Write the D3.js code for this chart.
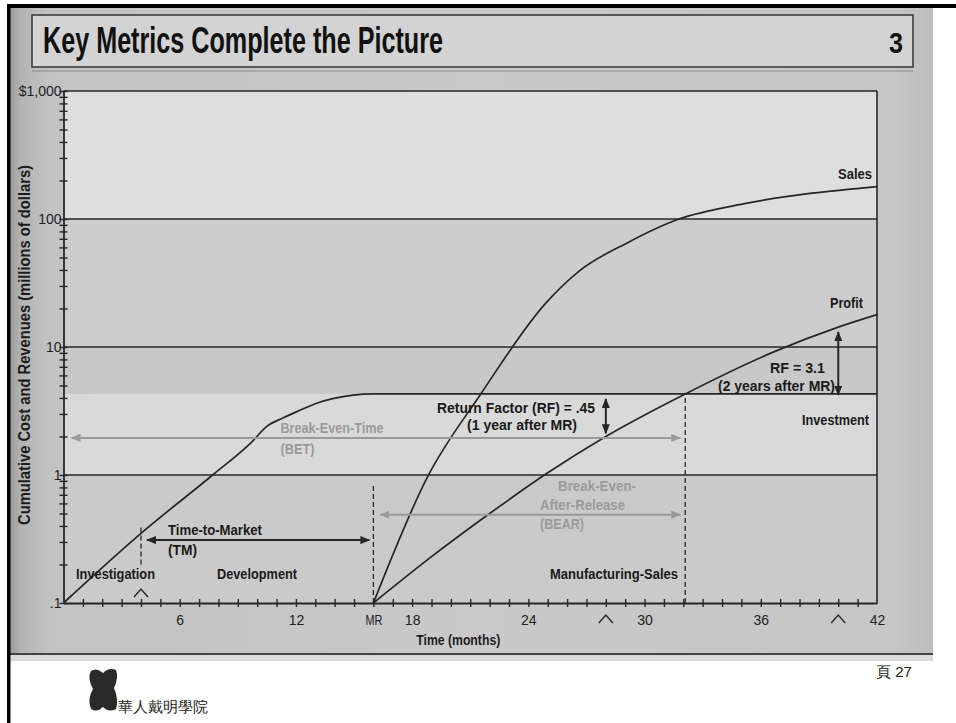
<!DOCTYPE html>
<html>
<head>
<meta charset="utf-8">
<title>Key Metrics Complete the Picture</title>
<script src="https://cdn.jsdelivr.net/npm/d3@7/dist/d3.min.js"></script>
<style>
  html, body { margin: 0; padding: 0; background: #fff; }
  svg { display: block; }
  text { font-family: "Liberation Sans", Arial, Helvetica, sans-serif; }
</style>
</head>
<body>
<svg id="chart" width="956" height="723"></svg>
<script>
// ---------- data ----------
const decadeTicks  = [0.1, 1, 10, 100, 1000];
const decadeLabels = [".1", "1", "10", "100", "$1,000"];
const monthTicks   = [6, 12, 16, 18, 24, 30, 36, 42];
const monthLabels  = ["6", "12", "MR", "18", "24", "30", "36", "42"];

// cumulative investment (cost), $M
const investMonths = [0, 4, 7.7, 9.7, 10.5, 11.35, 12.2, 13.1, 13.9, 16, 42];
const investValues = [0.1, 0.35, 1.0, 1.8, 2.4, 2.8, 3.2, 3.65, 3.95, 4.3, 4.3];

// cumulative sales, $M
const salesMonths = [16, 18.8, 21.5, 24.9, 26.7, 29.1, 31.7, 35.3, 42];
const salesValues = [0.1, 0.97, 4.2, 22, 40, 65, 99, 133, 179];

// cumulative profit, $M
const profitMonths = [16, 19, 22, 25, 28, 32.1, 36.7, 40, 42];
const profitValues = [0.1, 0.23, 0.5, 1.04, 2.0, 4.3, 9.2, 14.3, 17.9];

const investment     = 4.3;   // total investment, $M
const tmStart        = 4;     // end of investigation
const mrMonth        = 16;    // manufacturing release
const breakEvenMonth = 32.1;  // profit recovers the investment
const rfMonths       = [28, 40];     // one and two years after MR
const rfValues       = [0.45, 3.1];  // return factor = profit / investment
const caretMonths    = [4, 28, 40];

// levels ($M) at which the interval arrows run
const tmLevel = 0.31, betLevel = 1.95, bearLevel = 0.49;

// ---------- styles ----------
const INK = "#262626", GREY = "#9a9a9a";
const bandEdges = [1000, 100, 10, investment, 1, 0.1];
const bandFills = ["#dedede", "#cdcdcd", "#c8c8c8", "#d9d9d9", "#cacaca"];

const svg = d3.select("#chart");
const x = d3.scaleLinear().domain([0, 42]).range([63.5, 877]);
const y = d3.scaleLog().domain([0.1, 1000]).range([603, 91]);

// ---------- defs ----------
const defs = svg.append("defs");
const grad = defs.append("linearGradient").attr("id", "paper").attr("x1", 0).attr("x2", 1).attr("y1", 0).attr("y2", 0);
[[0, "#9a9a9a"], [0.012, "#b4b4b4"], [0.045, "#c3c3c3"], [0.5, "#c9c9c9"], [0.96, "#c6c6c6"], [1, "#bdbdbd"]]
  .forEach(([o, c]) => grad.append("stop").attr("offset", o).attr("stop-color", c));

function marker(id, color) {
  defs.append("marker").attr("id", id)
    .attr("viewBox", "0 0 10 8").attr("refX", 9).attr("refY", 4)
    .attr("markerWidth", 10).attr("markerHeight", 8)
    .attr("markerUnits", "userSpaceOnUse").attr("orient", "auto-start-reverse")
    .attr("preserveAspectRatio", "none")
    .append("path").attr("d", "M0,0 L10,4 L0,8 Z").attr("fill", color);
}
marker("headInk", INK);
marker("headGrey", GREY);

// ---------- page ----------
svg.append("rect").attr("x", 0).attr("y", 0).attr("width", 956).attr("height", 723).attr("fill", "#fff");
svg.append("rect").attr("x", 10).attr("y", 8).attr("width", 923).attr("height", 647).attr("fill", "url(#paper)");
svg.append("rect").attr("x", 10).attr("y", 655).attr("width", 923).attr("height", 6).attr("fill", "#dcdcdc");
svg.append("line").attr("x1", 10).attr("x2", 933).attr("y1", 654).attr("y2", 654).attr("stroke", "#444").attr("stroke-width", 2);
svg.append("rect").attr("x", 7).attr("y", 4).attr("width", 949).attr("height", 4).attr("fill", "#000");
svg.append("rect").attr("x", 7).attr("y", 4).attr("width", 3.5).attr("height", 719).attr("fill", "#000");

// title box
svg.append("rect").attr("x", 32).attr("y", 15).attr("width", 881).attr("height", 52)
  .attr("fill", "#d3d3d3").attr("stroke", "#333").attr("stroke-width", 1.5);
svg.append("line").attr("x1", 32).attr("x2", 913).attr("y1", 71).attr("y2", 71).attr("stroke", "#8a8a8a").attr("stroke-width", 1);
svg.append("text").attr("x", 43).attr("y", 53).attr("font-size", 36).attr("font-weight", "bold")
  .attr("fill", "#111").attr("textLength", 400).attr("lengthAdjust", "spacingAndGlyphs")
  .text("Key Metrics Complete the Picture");
svg.append("text").attr("x", 889).attr("y", 53).attr("font-size", 30).attr("font-weight", "bold")
  .attr("fill", "#111").attr("textLength", 14).attr("lengthAdjust", "spacingAndGlyphs").text("3");

// ---------- plot bands ----------
svg.append("g").selectAll("rect").data(bandFills).join("rect")
  .attr("x", x(0)).attr("width", x(42) - x(0))
  .attr("y", (d, i) => y(bandEdges[i]))
  .attr("height", (d, i) => y(bandEdges[i + 1]) - y(bandEdges[i]))
  .attr("fill", d => d);

// decade grid lines + frame
svg.append("g").selectAll("line").data([1, 10, 100, 1000]).join("line")
  .attr("x1", x(0)).attr("x2", x(42)).attr("y1", d => y(d)).attr("y2", d => y(d))
  .attr("stroke", INK).attr("stroke-width", 1.6);
svg.append("line").attr("x1", x(42)).attr("x2", x(42)).attr("y1", y(1000)).attr("y2", y(0.1))
  .attr("stroke", INK).attr("stroke-width", 1.6);

// ---------- axes ----------
const axisY = svg.append("g").attr("transform", `translate(${x(0)},0)`)
  .call(d3.axisLeft(y).tickValues(y.ticks()).tickFormat("").tickSizeInner(4).tickSizeOuter(0));
axisY.selectAll(".tick line").attr("x1", 4).attr("stroke", INK).attr("stroke-width", 1.4);
axisY.select(".domain").attr("stroke", INK).attr("stroke-width", 1.8);

const labelsY = svg.append("g").attr("transform", `translate(${x(0)},0)`)
  .call(d3.axisLeft(y).tickValues(decadeTicks).tickFormat((d, i) => decadeLabels[i]).tickSize(0).tickPadding(2));
labelsY.select(".domain").remove();
labelsY.selectAll("text").attr("font-size", 14).attr("fill", "#222")
  .attr("font-family", "'Liberation Sans', Arial, sans-serif");

const axisX = svg.append("g").attr("transform", `translate(0,${y(0.1)})`)
  .call(d3.axisBottom(x).tickValues(d3.range(1, 42)).tickFormat("").tickSizeInner(4).tickSizeOuter(0));
axisX.selectAll(".tick line").attr("y1", -4).attr("stroke", INK).attr("stroke-width", 1.4);
axisX.select(".domain").attr("stroke", INK).attr("stroke-width", 1.8);

const labelsX = svg.append("g").attr("transform", `translate(0,${y(0.1)})`)
  .call(d3.axisBottom(x).tickValues(monthTicks).tickFormat((d, i) => monthLabels[i]).tickSize(0).tickPadding(12));
labelsX.select(".domain").remove();
labelsX.selectAll("text").attr("font-size", 14).attr("fill", "#222")
  .attr("font-family", "'Liberation Sans', Arial, sans-serif")
  .attr("textLength", (d, i) => monthLabels[i] === "MR" ? 17 : null)
  .attr("lengthAdjust", "spacingAndGlyphs");

// carets marking TM start, and one / two years after MR
const caret = (m, base) => `M${x(m) - 7},${base} L${x(m)},${base - 8} L${x(m) + 7},${base}`;
svg.append("g").selectAll("path").data(caretMonths).join("path")
  .attr("d", (m, i) => caret(m, i === 0 ? y(0.1) - 6 : y(0.1) + 20))
  .attr("fill", "none").attr("stroke", INK).attr("stroke-width", 1.4);

// axis titles
svg.append("text").attr("transform", "translate(30,345) rotate(-90)")
  .attr("text-anchor", "middle").attr("font-size", 16).attr("font-weight", "bold").attr("fill", "#1c1c1c")
  .attr("textLength", 360).attr("lengthAdjust", "spacingAndGlyphs")
  .text("Cumulative Cost and Revenues (millions of dollars)");
svg.append("text").attr("x", (x(0) + x(42)) / 2 - 12).attr("y", 645)
  .attr("text-anchor", "middle").attr("font-size", 15).attr("font-weight", "bold").attr("fill", "#1c1c1c")
  .attr("textLength", 84).attr("lengthAdjust", "spacingAndGlyphs")
  .text("Time (months)");

// ---------- curves ----------
const line = d3.line().x(d => x(d[0])).y(d => y(d[1])).curve(d3.curveMonotoneX);
const series = [
  d3.zip(investMonths, investValues),
  d3.zip(salesMonths, salesValues),
  d3.zip(profitMonths, profitValues)
];
svg.append("g").selectAll("path").data(series).join("path")
  .attr("d", line).attr("fill", "none").attr("stroke", INK).attr("stroke-width", 1.7);

// ---------- milestone dashes ----------
const dash = (m, v0, v1) => svg.append("line")
  .attr("x1", x(m)).attr("x2", x(m)).attr("y1", y(v0)).attr("y2", y(v1))
  .attr("stroke", INK).attr("stroke-width", 1.3).attr("stroke-dasharray", "5,3");
dash(tmStart, 0.2, 0.39);
dash(mrMonth, 0.1, 0.86);
dash(breakEvenMonth, 0.1, investment);

// ---------- interval arrows ----------
const arrow = (x1, y1, x2, y2, color, head) => svg.append("line")
  .attr("x1", x1).attr("y1", y1).attr("x2", x2).attr("y2", y2)
  .attr("stroke", color).attr("stroke-width", 2)
  .attr("marker-start", `url(#${head})`).attr("marker-end", `url(#${head})`);

arrow(x(tmStart) + 6, y(tmLevel), x(mrMonth) - 4, y(tmLevel), INK, "headInk");
arrow(x(0) + 8, y(betLevel), x(breakEvenMonth) - 5, y(betLevel), GREY, "headGrey");
arrow(x(mrMonth) + 7, y(bearLevel), x(breakEvenMonth) - 5, y(bearLevel), GREY, "headGrey");

// return-factor arrows: from investment level to RF x investment
rfMonths.forEach((m, i) => {
  const inset = i === 0 ? 5 : 1;
  arrow(x(m), y(investment) + inset, x(m), y(rfValues[i] * investment) + (i === 0 ? -inset : inset), INK, "headInk");
});

// ---------- annotations ----------
function note(str, x0, yb, w, color, size) {
  return svg.append("text").attr("x", x0).attr("y", yb)
    .attr("font-size", size || 15).attr("font-weight", "bold").attr("fill", color || "#1a1a1a")
    .attr("textLength", w).attr("lengthAdjust", "spacingAndGlyphs").text(str);
}
note("Investigation", 76, 579, 79);
note("Development", 217, 579, 80);
note("Time-to-Market", 168, 535, 94);
note("(TM)", 168, 555, 29);
note("Break-Even-Time", 280.5, 433, 103, GREY);
note("(BET)", 280.5, 454, 34, GREY);
note("Return Factor (RF) = " + String(rfValues[0]).replace(/^0/, ""), 437, 413, 158);
note("(1 year after MR)", 467, 430, 110);
note("Break-Even-", 558, 491, 78, GREY);
note("After-Release", 540, 510, 85, GREY);
note("(BEAR)", 540, 529, 44, GREY);
note("Manufacturing-Sales", 550, 579, 128);
note("Investment", 802, 425, 67);
note("RF = " + rfValues[1], 770, 373, 55);
note("(2 years after MR)", 718, 391, 117);
note("Profit", 830, 308, 33);
note("Sales", 838, 179, 34);

// ---------- footer ----------
svg.append("path")
  .attr("transform", "translate(88,668)")
  .attr("d", "M3,3 Q9,-1 15,5 Q21,-1 28,2 Q31,9 26,20 Q31,31 28,41 Q21,45 15,39 Q9,45 3,41 Q-1,31 5,21 Q-1,10 3,3 Z")
  .attr("fill", "#2a2a2a");
svg.append("text").attr("x", 118).attr("y", 712).attr("font-size", 15)
  .attr("font-family", "'Noto Sans CJK TC', 'Noto Sans CJK SC', sans-serif").attr("fill", "#222")
  .text("華人戴明學院");
svg.append("text").attr("x", 876).attr("y", 677).attr("font-size", 15)
  .attr("font-family", "'Noto Sans CJK TC', 'Noto Sans CJK SC', sans-serif").attr("fill", "#222")
  .text("頁 27");
</script>
</body>
</html>
